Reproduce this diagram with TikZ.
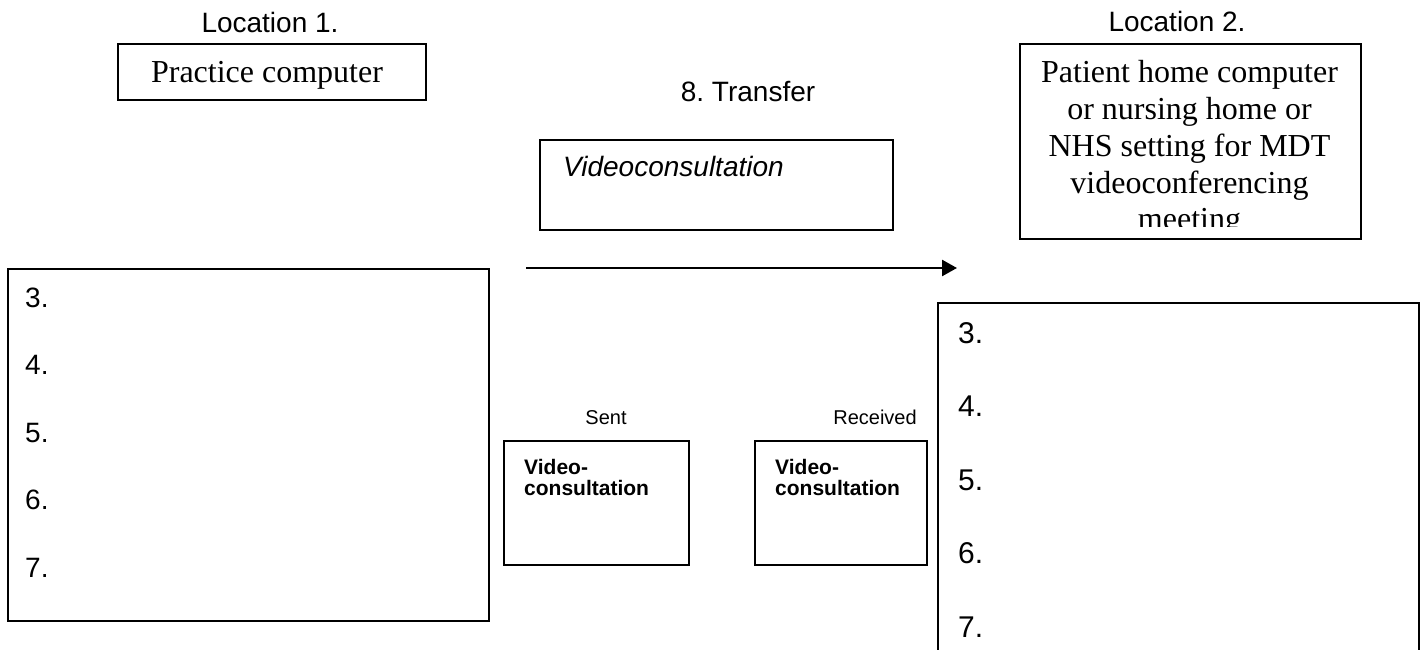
\documentclass[tikz,border=0pt]{standalone}
\usepackage{fontspec}
\newfontfamily\arialf{Liberation Sans}
\newfontfamily\timesf{Liberation Serif}
\usetikzlibrary{arrows.meta}
\frenchspacing
\tikzset{
  box/.style={draw, line width=1.8pt, inner sep=0pt, anchor=north west},
  sanslab/.style={inner sep=0pt, font=\arialf\fontsize{28}{32}\selectfont},
  sansnum/.style={inner sep=0pt, anchor=base west, font=\arialf\fontsize{30}{34}\selectfont},
  sanssmall/.style={inner sep=0pt, font=\arialf\fontsize{20}{24}\selectfont},
  sansbold/.style={inner sep=0pt, anchor=base west, font=\arialf\bfseries\fontsize{21}{21}\selectfont},
  seriflab/.style={inner sep=0pt, font=\timesf\fontsize{32}{36}\selectfont},
  flow/.style={line width=2.6pt, -{Triangle[length=15pt,width=16pt]}}
}
\begin{document}
\begin{tikzpicture}[x=1pt,y=-1pt]
\path[use as bounding box, fill=white] (0,0) rectangle (1427,650);

% Location 1
\node[sanslab, anchor=base] (loc1) at (270,33) {Location 1.};
\node[box, minimum width=308pt, minimum height=56pt] (pcbox) at (117,43) {};
\node[seriflab, anchor=base] (pctext) at (267,83) {Practice computer};

% Location 2
\node[sanslab, anchor=base] (loc2) at (1177,32) {Location 2.};
\node[box, minimum width=341pt, minimum height=195pt] (phbox) at (1019,43) {};
\begin{scope}
  \clip (1019,43) rectangle (1360,226);
  \foreach \t [count=\i] in {Patient home computer, or nursing home or, NHS setting for MDT, videoconferencing, meeting}
    \node[seriflab, anchor=base] (ph\i) at (1189.5,{83+36.7*(\i-1)}) {\t};
\end{scope}

% Transfer
\node[sanslab, anchor=base] (transfer) at (748,102) {8. Transfer};
\node[box, minimum width=353pt, minimum height=90pt] (vcbox) at (539,139) {};
\node[sanslab, anchor=base west, font=\arialf\itshape\fontsize{28}{32}\selectfont] (vctext) at (563,176) {Videoconsultation};
\coordinate (arrS) at (526,268);
\coordinate (arrE) at (957,268);
\draw[flow] (arrS) -- (arrE);

% Left list box
\node[box, minimum width=481pt, minimum height=352pt] (leftbox) at (7,268) {};
\foreach \n [count=\i] in {3,4,5,6,7}
  \node[sansnum, font=\arialf\fontsize{28}{32}\selectfont] (l\n) at (25,{307+67.5*(\i-1)}) {\n.};

% Right list box (runs off the bottom)
\node[box, minimum width=481pt, minimum height=370pt] (rightbox) at (937,302) {};
\foreach \n [count=\i] in {3,4,5,6,7}
  \node[sansnum] (r\n) at (958,{343+73.5*(\i-1)}) {\n.};

% Sent / Received
\node[sanssmall, anchor=base] (sent) at (606,424) {Sent};
\node[box, minimum width=185pt, minimum height=124pt] (sentbox) at (503,440) {};
\node[sansbold] (sent1) at (524,474) {Video-};
\node[sansbold] (sent2) at (524,495) {consultation};

\node[sanssmall, anchor=base] (recv) at (875,424) {Received};
\node[box, minimum width=172pt, minimum height=124pt] (recvbox) at (754,440) {};
\node[sansbold] (recv1) at (775,474) {Video-};
\node[sansbold] (recv2) at (775,495) {consultation};
\end{tikzpicture}
\end{document}
